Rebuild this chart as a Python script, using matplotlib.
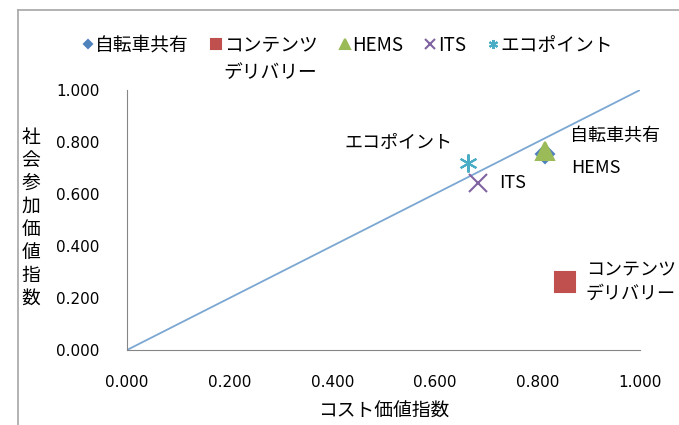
import matplotlib
matplotlib.use("Agg")
import matplotlib.pyplot as plt
from matplotlib.lines import Line2D

plt.rcParams['font.family'] = ['Noto Sans CJK JP', 'DejaVu Sans']

# data
names = ['自転車共有', 'コンテンツ\nデリバリー', 'HEMS', 'ITS', 'エコポイント']
cost_idx = [0.815, 0.854, 0.815, 0.684, 0.665]
social_idx = [0.752, 0.26, 0.765, 0.642, 0.72]
colors = ['#4F81BD', '#C0504D', '#9BBB59', '#8064A2', '#4BACC6']
markers = ['D', 's', '^', 'x', (6, 2, 0)]
msizes = [9, 14, 13, 13, 13]
ticks = [0, 0.2, 0.4, 0.6, 0.8, 1.0]

fig = plt.figure(figsize=(6.79, 4.25), dpi=100)
ax = fig.add_axes([127/679, 1-350/425, 513/679, 260/425])

# outer chart-area frame (only the left and top edges are in view)
fig.add_artist(Line2D([18/679, 18/679], [0, 1-10/425], color='#A6A6A6', lw=1.2))
fig.add_artist(Line2D([18/679, 1], [1-10/425, 1-10/425], color='#A6A6A6', lw=1.2))

ax.plot([0, 1], [0, 1], color='#7BA7D3', lw=1.3, zorder=1)

for i in range(len(names)):
    ax.plot(cost_idx[i], social_idx[i], linestyle='none', marker=markers[i],
            color=colors[i], markersize=msizes[i], mew=1.5,
            label=names[i].split('\n')[0], clip_on=False, zorder=3)

# data labels
lab_off = {0: (18, 13, 'left'), 1: (15, 0, 'left'), 2: (19, -12, 'left'),
           3: (15, 0, 'left'), 4: (-11, 14, 'right')}
for i, (dx, dy, ha) in lab_off.items():
    ax.annotate(names[i], (cost_idx[i], social_idx[i]), xytext=(dx, dy),
                textcoords='offset points', ha=ha, va='center', fontsize=13,
                linespacing=1.4, annotation_clip=False)

ax.set_xlim(0, 1)
ax.set_ylim(0, 1)
ax.set_xticks(ticks)
ax.set_yticks(ticks)
ax.set_xticklabels(['%.3f' % t for t in ticks], fontsize=11, fontfamily='DejaVu Sans')
ax.set_yticklabels(['%.3f' % t for t in ticks], fontsize=11, fontfamily='DejaVu Sans')
ax.xaxis.set_tick_params(length=0, pad=18)
ax.yaxis.set_tick_params(length=0, pad=20)
for s in ['top', 'right']:
    ax.spines[s].set_visible(False)
for s in ['left', 'bottom']:
    ax.spines[s].set_color('#868686')

ax.set_xlabel('コスト価値指数', fontsize=13.5, labelpad=8)
fig.text(31/679, 1-218/425, '\n'.join('社会参加価値指数'), fontsize=13.5,
         ha='center', va='center', linespacing=1.12)

leg = fig.legend(loc='upper left', bbox_to_anchor=(82/679, 1-35/425), ncol=5,
                 frameon=False, fontsize=13.5, handlelength=0.6,
                 handletextpad=0.1, columnspacing=1.15, markerscale=0.5,
                 borderpad=0, borderaxespad=0)

# second line of the two-line legend entry, placed under its first line
fig.canvas.draw()
bb = leg.get_texts()[1].get_window_extent()
fig.text((bb.x0 + bb.x1) / 2 / 679, (bb.y0 - 6) / 425, names[1].split('\n')[1],
         ha='center', va='top', fontsize=13.5)

fig.savefig('out.png', dpi=100)
